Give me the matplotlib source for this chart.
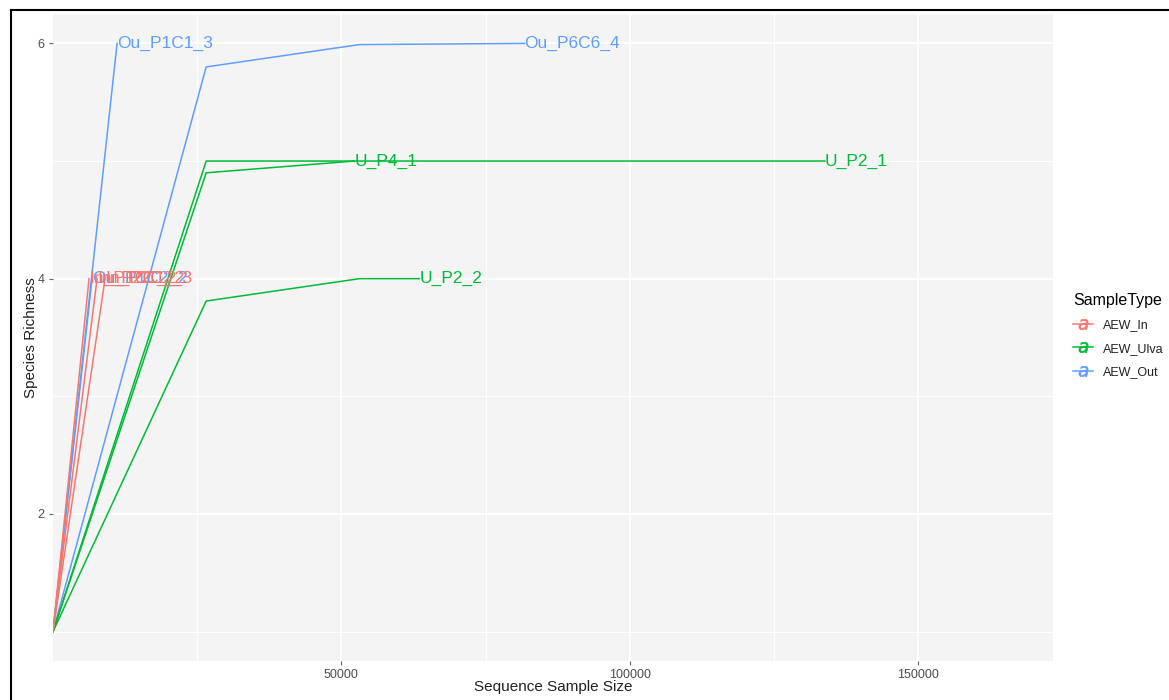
import matplotlib
matplotlib.use("Agg")
import matplotlib.pyplot as plt
from matplotlib.lines import Line2D

plt.rcParams['font.family'] = ['Liberation Sans', 'DejaVu Sans']

# Rarefaction curves: sample size vs. observed species richness
sample_types = ["AEW_In", "AEW_Ulva", "AEW_Out"]
type_colors = {"AEW_In": "#F8766D", "AEW_Ulva": "#00BA38", "AEW_Out": "#619CFF"}

curve_names = ["Ou_P1C2_2", "Ou_P1C1_3", "Ou_P6C6_4",
               "U_P4_1", "U_P2_1", "U_P2_2",
               "In_P1C1_2", "In_P2C1_2", "In_P2C2_3"]
curve_types = ["AEW_Out", "AEW_Out", "AEW_Out",
               "AEW_Ulva", "AEW_Ulva", "AEW_Ulva",
               "AEW_In", "AEW_In", "AEW_In"]
curve_sizes = [
    [1, 6770],
    [1, 11110],
    [1, 26560, 53120, 81770],
    [1, 26560, 52260],
    [1, 26560, 53120, 79690, 106250, 133850],
    [1, 26560, 53120, 63540],
    [1, 6250],
    [1, 7640],
    [1, 9030],
]
curve_richness = [
    [1, 4],
    [1, 6],
    [1, 5.8, 5.99, 6],
    [1, 4.9, 5],
    [1, 5, 5, 5, 5, 5],
    [1, 3.81, 4, 4],
    [1, 4],
    [1, 4],
    [1, 4],
]

x_ticks = [50000, 100000, 150000]
y_ticks = [2, 4, 6]

fig = plt.figure(figsize=(11.69, 7.0), dpi=100)
ax = fig.add_axes([53 / 1169, 1 - 661 / 700, 1000 / 1169, 647 / 700])
ax.set_facecolor("#F4F4F4")

# ggplot-like grid: major and minor white lines
for gx in [25000, 50000, 75000, 100000, 125000, 150000]:
    ax.axvline(gx, color="white", lw=1.4 if gx % 50000 == 0 else 0.8, zorder=0)
for gy in [1, 2, 3, 4, 5, 6]:
    ax.axhline(gy, color="white", lw=1.4 if gy % 2 == 0 else 0.8, zorder=0)

for name, stype, xs, ys in zip(curve_names, curve_types, curve_sizes, curve_richness):
    col = type_colors[stype]
    ax.plot(xs, ys, color=col, lw=1.1, zorder=2)
    ax.text(xs[-1], ys[-1], name, color=col, fontsize=12.5,
            ha="left", va="center", zorder=3)

ax.set_xlim(0, 173400)
ax.set_ylim(0.75, 6.25)
ax.set_xticks(x_ticks)
ax.set_xticklabels([str(t) for t in x_ticks])
ax.set_yticks(y_ticks)
ax.set_yticklabels([str(t) for t in y_ticks])
ax.tick_params(axis="both", labelcolor="#4D4D4D", color="#666666",
               labelsize=9, length=3, width=0.8, pad=3)
for sp in ax.spines.values():
    sp.set_visible(False)

ax.set_xlabel("Sequence Sample Size", fontsize=11, color="#222222")
ax.set_ylabel("Species Richness", fontsize=11, color="#222222")
ax.xaxis.set_label_coords(0.5, -0.03)
ax.yaxis.set_label_coords(-0.015, 0.5)

handles = [Line2D([0], [0], color=type_colors[t], lw=1.1, marker="$a$",
                  markersize=7.5, markeredgewidth=0.5) for t in sample_types]
leg = fig.legend(handles, sample_types, loc="upper left",
                 bbox_to_anchor=(1062 / 1169, 1 - 282 / 700),
                 title="SampleType", frameon=False, fontsize=9,
                 title_fontsize=11.5, handlelength=1.6, labelspacing=0.9,
                 alignment="left")
for txt in leg.get_texts():
    txt.set_color("#222222")

# Outer frame along top and left edges
fig.add_artist(Line2D([11 / 1169, 11 / 1169], [0, 1 - 10 / 700],
                      transform=fig.transFigure, color="black", lw=1.5))
fig.add_artist(Line2D([11 / 1169, 1], [1 - 10 / 700, 1 - 10 / 700],
                      transform=fig.transFigure, color="black", lw=1.5))

fig.savefig("out.png", dpi=100)
